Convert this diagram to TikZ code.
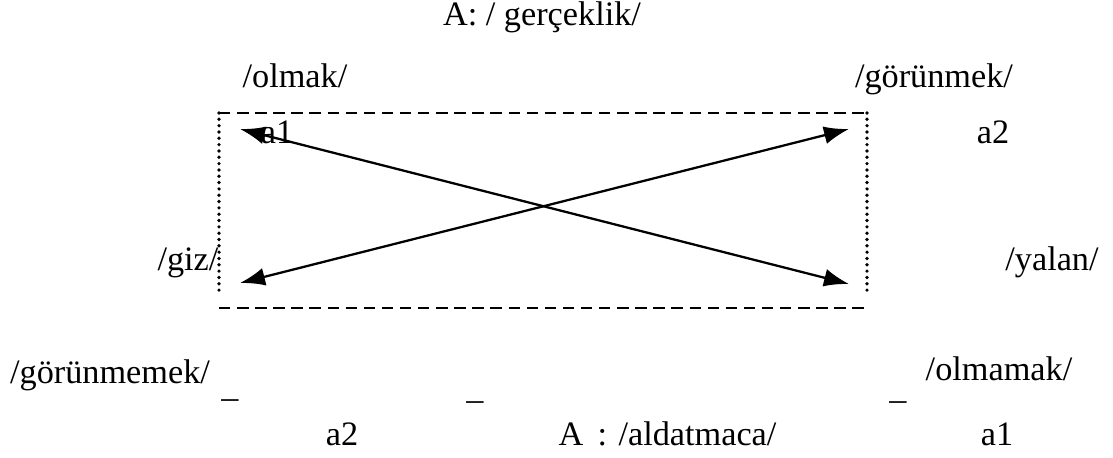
\documentclass[tikz,border=0pt]{standalone}
\usepackage{fontspec}
\setmainfont{Liberation Serif}
\usetikzlibrary{arrows.meta}
\begin{document}
\begin{tikzpicture}
            [x=0.02cm, y=-0.02cm,
            word/.style={inner sep=0pt, font=\fontsize{19.5}{23}\selectfont, text height=1.6ex, text depth=0.3ex},
            bar/.style={inner sep=0pt, font=\fontsize{19.5}{23}\selectfont},
            link/.style={line width=1.3pt, black, {Latex[length=5mm,width=3.6mm]}-{Latex[length=5mm,width=3.6mm]}},
            dashside/.style={line width=1.6pt, dash pattern=on 6.5pt off 3.8pt},
            dotside/.style={line width=2.1pt, line cap=round, dash pattern=on 0pt off 3.6pt}]

            \useasboundingbox (0,0) rectangle (1113,457);

            % top and corner words
            \node[word] (real) at (542,20) {A: / gerçeklik/};
            \node[word] (olmak) at (295,82) {/olmak/};
            \node[word] (gorunmek) at (934,82) {/görünmek/};
            \node[word] (aone) at (277,138) {a1};
            \node[word] (atwo) at (993,138) {a2};
            \node[word] (giz) at (188,265) {/giz/};
            \node[word] (yalan) at (1052,265) {/yalan/};

            % bottom words
            \node[word] (gorunmemek) at (110,378) {/görünmemek/};
            \node[word] (olmamak) at (999,375) {/olmamak/};
            \node[bar] (bara) at (230,404) {–};
            \node[bar] (barb) at (475,406) {–};
            \node[bar] (barc) at (898,406) {–};
            \node[word] (atwob) at (342,440) {a2};
            \node[word] (bigA) at (571,440) {A};
            \node[word] (aldat) at (687,440) {: /aldatmaca/};
            \node[word] (aoneb) at (997,440) {a1};

            % the box
            \draw[dashside] (219,113) -- (867,113);
            \draw[dashside] (219,308) -- (864,308);
            \draw[dotside] (219,113) -- (219,294);
            \draw[dotside] (867,113) -- (867,295);

            % arrow ends
            \coordinate (tl) at (240,129);
            \coordinate (tr) at (849,129);
            \coordinate (bl) at (240,283);
            \coordinate (br) at (849,284);

            \draw[link] (tl) -- (br);
            \draw[link] (bl) -- (tr);

        \end{tikzpicture}
\end{document}
